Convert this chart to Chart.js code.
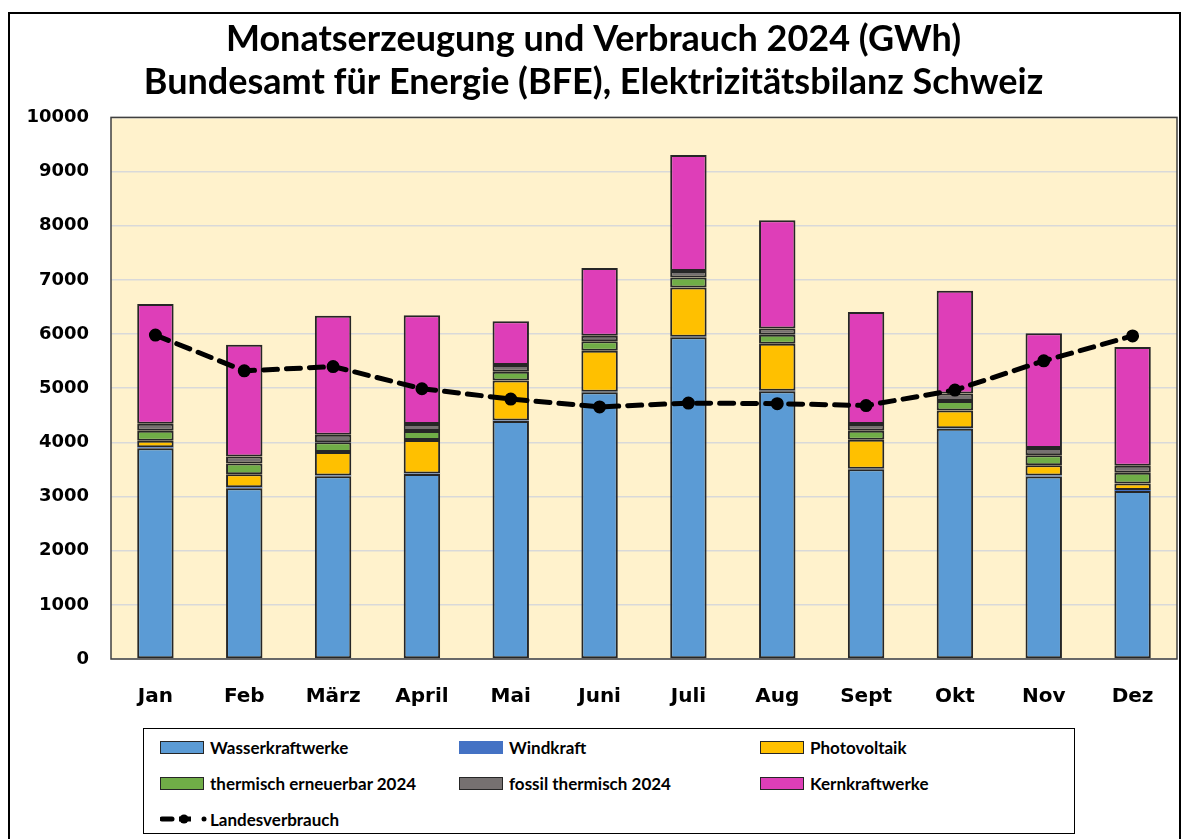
<!DOCTYPE html>
<html lang="de">
<head>
<meta charset="utf-8">
<title>Monatserzeugung und Verbrauch 2024</title>
<script src="https://cdn.jsdelivr.net/npm/chart.js@4"></script>
<style>
  html, body { margin: 0; padding: 0; background: #fff; }
  #wrap { position: relative; width: 1190px; height: 839px; overflow: hidden; }
  #frame { position: absolute; left: 8px; top: 12px; width: 1169px; height: 840px; border: 2px solid #000; }
  canvas { position: absolute; left: 0; top: 0; }
  #legend { position: absolute; left: 143px; top: 728px; width: 930px; height: 104px;
            border: 1.5px solid #000; background: #fff; font-family: Lato, "Open Sans", sans-serif;
            font-weight: bold; font-size: 17px; color: #000; }
  .item { position: absolute; display: flex; align-items: center; height: 20px; white-space: nowrap; }
  .sw { width: 44px; height: 13px; margin-right: 6px; box-sizing: border-box; }
</style>
</head>
<body>
<div id="wrap">
  <div id="frame"></div>
  <canvas id="chart" width="1190" height="839"></canvas>
  <div id="legend"></div>
</div>
<script>
// Monate
const monate = ['Jan', 'Feb', 'März', 'April', 'Mai', 'Juni', 'Juli', 'Aug', 'Sept', 'Okt', 'Nov', 'Dez'];

// Erzeugung (GWh)
const wasserkraft = [3890, 3155, 3375, 3415, 4395, 4925, 5940, 4945, 3505, 4250, 3370, 3100];
const windkraft   = [20, 18, 15, 12, 10, 8, 8, 8, 10, 12, 18, 20];
const photovoltaik = [120, 240, 430, 615, 735, 760, 910, 870, 535, 325, 190, 120];
const thermErneuerbar = [185, 198, 180, 166, 166, 172, 185, 166, 166, 178, 185, 197];
const fossilThermisch = [130, 129, 141, 129, 122, 105, 123, 111, 123, 136, 135, 129];
const kernkraft = [2210, 2060, 2195, 2010, 806, 1248, 2140, 2000, 2066, 1900, 2116, 2195];

// Landesverbrauch (GWh)
const landesverbrauch = [5980, 5320, 5400, 4990, 4800, 4655, 4725, 4715, 4680, 4965, 5505, 5965];

const yTicks = [0, 1000, 2000, 3000, 4000, 5000, 6000, 7000, 8000, 9000, 10000];

const serien = [
  { label: 'Wasserkraftwerke', data: wasserkraft, color: '#5B9BD5', border: true },
  { label: 'Windkraft', data: windkraft, color: '#4472C4', border: false },
  { label: 'Photovoltaik', data: photovoltaik, color: '#FFC000', border: true },
  { label: 'thermisch erneuerbar 2024', data: thermErneuerbar, color: '#70AD47', border: true },
  { label: 'fossil thermisch 2024', data: fossilThermisch, color: '#767171', border: true },
  { label: 'Kernkraftwerke', data: kernkraft, color: '#DE3EB8', border: true }
];

const datasets = serien.map(s => ({
  type: 'bar',
  label: s.label,
  data: s.data,
  backgroundColor: s.color,
  borderColor: s.border ? '#262626' : s.color,
  borderWidth: s.border ? 2 : 0,
  borderSkipped: false,
  stack: 'erzeugung',
  order: 2,
  barPercentage: 0.41,
  categoryPercentage: 1
}));

datasets.push({
  type: 'line',
  label: 'Landesverbrauch',
  data: landesverbrauch,
  borderColor: '#000',
  backgroundColor: '#000',
  borderWidth: 5,
  borderDash: [14, 9],
  borderCapStyle: 'round',
  pointRadius: 4,
  pointBackgroundColor: '#000',
  pointBorderColor: '#000',
  tension: 0,
  stack: 'verbrauch',
  order: 1
});

// Hintergrund und Rahmen der Zeichenfläche
const plotArea = {
  id: 'plotArea',
  beforeDraw(chart) {
    const { ctx, chartArea: a } = chart;
    ctx.save();
    ctx.fillStyle = '#FFF2CC';
    ctx.fillRect(a.left, a.top, a.right - a.left, a.bottom - a.top);
    ctx.restore();
  },
  afterDraw(chart) {
    const { ctx, chartArea: a } = chart;
    ctx.save();
    ctx.strokeStyle = '#404040';
    ctx.lineWidth = 1.5;
    ctx.strokeRect(a.left, a.top, a.right - a.left, a.bottom - a.top);
    ctx.restore();
  }
};

new Chart(document.getElementById('chart').getContext('2d'), {
  data: { labels: monate, datasets },
  options: {
    responsive: false,
    animation: false,
    layout: { padding: { left: 10, right: 13, top: 0, bottom: 0 } },
    plugins: {
      legend: { display: false },
      tooltip: { enabled: false },
      title: {
        display: true,
        text: ['Monatserzeugung und Verbrauch 2024 (GWh)', 'Bundesamt für Energie (BFE), Elektrizitätsbilanz Schweiz'],
        color: '#000',
        font: { family: 'Lato', size: 36, weight: 'bold', lineHeight: 1.2 },
        padding: { top: 18, bottom: 13 }
      }
    },
    scales: {
      x: {
        stacked: true,
        grid: { display: false, drawTicks: false },
        border: { display: false },
        ticks: { color: '#000', padding: 26, font: { family: 'DejaVu Sans', size: 20, weight: 'bold' } },
        afterFit: (scale) => { scale.height = 180; }
      },
      y: {
        stacked: true,
        min: 0,
        max: 10000,
        afterBuildTicks: (scale) => { scale.ticks = yTicks.map(v => ({ value: v })); },
        grid: { color: '#D9D9D9', lineWidth: 1.5, drawTicks: false },
        border: { display: false },
        ticks: {
          color: '#000',
          padding: 22,
          font: { family: 'DejaVu Sans', size: 18, weight: 'bold' },
          callback: (v) => String(v)
        },
        afterFit: (scale) => { scale.width = 101; }
      }
    }
  },
  plugins: [plotArea]
});

// Legende (3 Spalten)
const legend = document.getElementById('legend');
const spalten = [16, 315, 616];
const zeilen = [8, 44, 80];
serien.forEach((s, i) => {
  const el = document.createElement('div');
  el.className = 'item';
  el.style.left = spalten[i % 3] + 'px';
  el.style.top = zeilen[Math.floor(i / 3)] + 'px';
  const sw = document.createElement('span');
  sw.className = 'sw';
  sw.style.background = s.color;
  sw.style.border = s.border ? '1.5px solid #262626' : 'none';
  el.appendChild(sw);
  el.appendChild(document.createTextNode(s.label));
  legend.appendChild(el);
});
const lv = document.createElement('div');
lv.className = 'item';
lv.style.left = spalten[0] + 'px';
lv.style.top = zeilen[2] + 'px';
lv.innerHTML = '<svg width="50" height="12"><line x1="2" y1="6" x2="12" y2="6" stroke="#000" stroke-width="5" stroke-linecap="round"/><circle cx="24" cy="6" r="4.5" fill="#000"/><line x1="19" y1="6" x2="31" y2="6" stroke="#000" stroke-width="5"/><circle cx="44" cy="6" r="2.5" fill="#000"/></svg>';
lv.appendChild(document.createTextNode('Landesverbrauch'));
legend.appendChild(lv);
</script>
</body>
</html>
